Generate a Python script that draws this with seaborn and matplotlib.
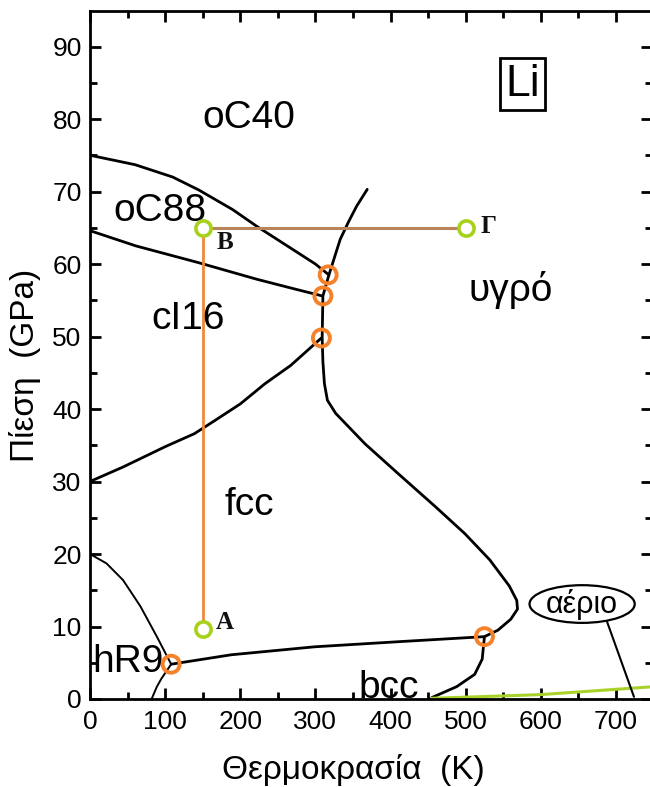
import numpy as np
import pandas as pd
import matplotlib
matplotlib.use("Agg")
import matplotlib.pyplot as plt
from matplotlib.ticker import MultipleLocator
from matplotlib.patches import Ellipse
import seaborn as sns

# ---- data ----
# oC40 / oC88 boundary
b1_T = [0, 60, 110, 145, 190, 222, 267, 300, 318]
b1_P = [75, 73.7, 72.0, 70.2, 67.5, 65.2, 62.2, 60.0, 58.5]
# oC88 / cI16 boundary
b2_T = [0, 61, 144, 222, 267, 309]
b2_P = [64.6, 62.5, 60.2, 57.9, 56.7, 55.6]
# cI16 / fcc boundary
b3_T = [0, 44, 100, 139, 166, 200, 233, 267, 308]
b3_P = [30, 32, 34.8, 36.6, 38.4, 40.7, 43.5, 46.0, 49.8]
# melting line (solid / liquid)
m_T = [455, 488, 512, 522, 525, 543, 560, 569, 568, 558, 532, 499, 460, 410, 366,
       327, 316, 312, 310, 309, 310, 318, 333, 344, 355, 369]
m_P = [0.2, 1.7, 3.4, 5.5, 8.6, 9.5, 11.0, 12.4, 13.6, 15.6, 19.2, 22.8, 26.5, 31.1, 35.2,
       39.4, 41.2, 43.5, 46.5, 49.8, 55.6, 58.5, 63.4, 65.8, 68.0, 70.3]
# hR9 boundaries
h1_T = [0, 22, 44, 67, 89, 108]
h1_P = [20, 18.7, 16.4, 12.8, 8.6, 4.8]
h2_T = [108, 95, 89, 82]
h2_P = [4.8, 2.8, 1.7, 0]
# hR9-fcc / bcc-fcc boundary
b6_T = [108, 188, 299, 410, 525]
b6_P = [4.8, 6.1, 7.2, 7.9, 8.6]
# gas line
g_T = [455, 599, 750]
g_P = [0.1, 0.6, 1.7]
# triple points
tp_T = [108, 525, 308, 310, 317]
tp_P = [4.8, 8.6, 49.8, 55.6, 58.5]
# path points A, B, Γ
path_names = ["A", "B", "Γ"]
path_T = [150, 150, 500]
path_P = [9.7, 65, 65]
path_label_T = [179, 180, 531]
path_label_P = [10.6, 63.0, 65.2]

# phase labels
phase_names = ["oC40", "oC88", "cI16", "fcc", "hR9", "bcc", "υγρό"]
phase_T = [212, 93, 130, 212, 50, 398, 560]
phase_P = [80.1, 67.3, 52.4, 26.8, 5.1, 1.5, 56.4]

xticks = [0, 100, 200, 300, 400, 500, 600, 700]
yticks = [0, 10, 20, 30, 40, 50, 60, 70, 80, 90]

sns.set_theme(style="ticks")
plt.rcParams['font.family'] = ['Liberation Sans', 'DejaVu Sans']
plt.rcParams['text.color'] = 'black'
plt.rcParams['axes.labelcolor'] = 'black'
plt.rcParams['xtick.color'] = 'black'
plt.rcParams['ytick.color'] = 'black'

fig = plt.figure(figsize=(6.5, 7.87), dpi=100)
ax = fig.add_axes([90/650, 88/787, 562/650, 688/787])

def curve(T, P, lw=2.0, color="black"):
    df = pd.DataFrame({"T": T, "P": P})
    sns.lineplot(data=df, x="T", y="P", sort=False, color=color, lw=lw, ax=ax,
                 estimator=None)

curve(b1_T, b1_P)
curve(b2_T, b2_P)
curve(b3_T, b3_P)
curve(m_T, m_P)
curve(h1_T, h1_P, lw=1.4)
curve(h2_T, h2_P, lw=1.4)
curve(b6_T, b6_P)
curve(g_T, g_P, lw=2.2, color="#a8d22a")

# path lines
curve([path_T[0], path_T[1]], [path_P[0], path_P[1]], lw=2.0, color="#ea8a3c")
curve([path_T[1], path_T[2]], [path_P[1], path_P[2]], lw=2.2, color="#b98459")

# triple points
sns.scatterplot(x=tp_T, y=tp_P, s=150, facecolor="none", edgecolor="#f5822a",
                linewidth=2.8, ax=ax, zorder=5)
# path points
sns.scatterplot(x=path_T, y=path_P, s=120, facecolor="white", edgecolor="#a8d11c",
                linewidth=2.6, ax=ax, zorder=6)

for n, t, p in zip(path_names, path_label_T, path_label_P):
    ax.text(t, p, n, family="Liberation Serif", fontweight="bold",
            fontsize=18, ha="center", va="center", color="#111111")

for n, t, p in zip(phase_names, phase_T, phase_P):
    ax.text(t, p, n, fontsize=28, ha="center", va="center", color="black")

ax.text(576, 84.8, "Li", fontsize=32, ha="center", va="center",
        bbox=dict(boxstyle="square,pad=0.12", fc="white", ec="black", lw=2))

# gas label with ellipse and pointer line
ax.plot([687, 724], [11.0, 0.3], color="black", lw=1.5)
ax.add_patch(Ellipse((655, 13.1), 140, 5.2, fc="white", ec="black", lw=1.6, zorder=4))
ax.text(655, 13.1, "αέριο", fontsize=22, ha="center", va="center", zorder=5)

ax.set_xlim(0, 748)
ax.set_ylim(0, 94.9)
ax.set_xticks(xticks)
ax.set_yticks(yticks)
ax.xaxis.set_minor_locator(MultipleLocator(50))
ax.yaxis.set_minor_locator(MultipleLocator(5))
ax.tick_params(which="both", direction="in", top=True, right=True,
               width=2, color="black")
ax.tick_params(which="major", length=8)
ax.tick_params(which="minor", length=5)
ax.tick_params(axis="x", labelsize=19, pad=8)
ax.tick_params(axis="y", labelsize=19, pad=6)
for s in ax.spines.values():
    s.set_linewidth(2)
    s.set_color("black")

ax.set_xlabel("")
ax.set_ylabel("")
fig.text(353/650, 1 - 770/787, "Θερμοκρασία  (K)", fontsize=24,
         ha="center", va="center")
fig.text(25/650, 1 - 365/787, "Πίεση  (GPa)", fontsize=24, rotation=90,
         ha="center", va="center")

fig.savefig("out.png", dpi=100)
